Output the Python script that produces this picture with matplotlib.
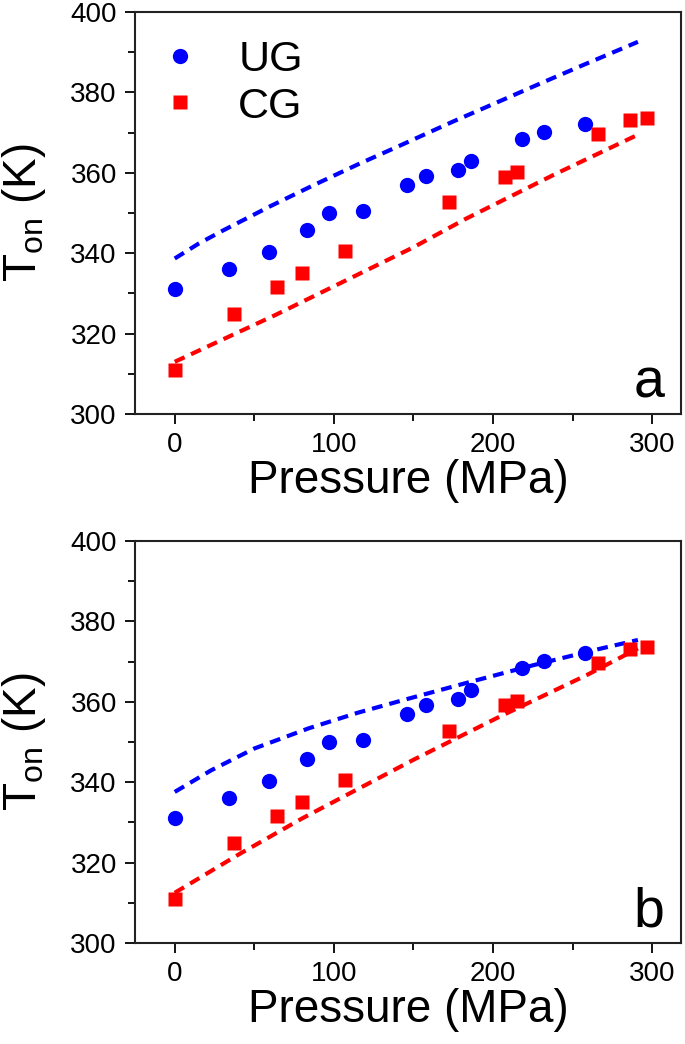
import matplotlib
matplotlib.use("Agg")
import matplotlib.pyplot as plt
from matplotlib.ticker import MultipleLocator

plt.rcParams["font.family"] = ["Liberation Sans", "DejaVu Sans"]
plt.rcParams["mathtext.default"] = "regular"

# measured onset temperatures (same in both panels)
ug_pressure = [0, 34, 59, 83, 97, 118, 146, 158, 178, 186, 218, 232, 258]
ug_temp = [331.0, 336.1, 340.3, 345.8, 349.9, 350.6, 357.0, 359.2, 360.7, 363.0, 368.4, 370.1, 372.1]
cg_pressure = [0, 37, 64, 80, 107, 172, 207.5, 215, 266, 286, 297]
cg_temp = [311.0, 325.0, 331.7, 335.2, 340.6, 352.7, 359.1, 360.1, 369.7, 373.1, 373.6]

# model curves, panel a
a_ug_p = [0, 15, 30, 60, 87, 115, 141, 175, 204, 230, 257, 291]
a_ug_t = [338.7, 342.4, 345.6, 351.7, 356.9, 362.1, 366.7, 372.8, 377.8, 382.3, 386.9, 392.6]
a_cg_p = [0, 63, 150, 183, 238, 291]
a_cg_t = [313.0, 324.6, 341.5, 348.6, 359.5, 369.5]

# model curves, panel b
b_ug_p = [0, 23, 50, 84, 115, 145, 185, 225, 267, 291]
b_ug_t = [337.6, 343.0, 348.4, 353.4, 357.3, 360.6, 364.9, 369.1, 373.2, 375.4]
b_cg_p = [0, 40, 80, 150, 204, 259, 291]
b_cg_t = [312.5, 322.0, 331.0, 345.6, 356.3, 366.7, 373.3]

BLUE = "#0000ff"
RED = "#ff0000"


def draw_panel(ax, ug_curve, cg_curve, letter, legend=False):
    ax.plot(*ug_curve, color=BLUE, lw=3.0, dashes=(2.6, 1.7))
    ax.plot(*cg_curve, color=RED, lw=3.0, dashes=(2.6, 1.7))
    ax.plot(ug_pressure, ug_temp, "o", color=BLUE, ms=11, mec="none", label="UG")
    ax.plot(cg_pressure, cg_temp, "s", color=RED, ms=10, mec="none", label="CG")

    ax.set_xlim(-25, 318)
    ax.set_ylim(300, 400)
    ax.xaxis.set_major_locator(MultipleLocator(100))
    ax.xaxis.set_minor_locator(MultipleLocator(50))
    ax.yaxis.set_major_locator(MultipleLocator(20))
    ax.yaxis.set_minor_locator(MultipleLocator(10))
    ax.tick_params(which="both", direction="out", width=1.3, labelsize=20, pad=6)
    ax.tick_params(which="major", length=7)
    ax.tick_params(which="minor", length=5)
    for spine in ax.spines.values():
        spine.set_linewidth(1.5)
        spine.set_color("#222222")

    ax.set_xlabel("Pressure (MPa)", fontsize=33, labelpad=1)
    ax.set_ylabel("T$_{on}$ (K)", fontsize=33, labelpad=16)
    ax.text(0.97, 0.04, letter, transform=ax.transAxes, fontsize=40,
            ha="right", va="baseline")

    if legend:
        ax.legend(loc="upper left", frameon=False, fontsize=31,
                  handlelength=0.8, handletextpad=0.95, labelspacing=0.15,
                  borderaxespad=0.25, borderpad=0.4)


fig = plt.figure(figsize=(6.85, 10.44), dpi=100)
ax_a = fig.add_axes([0.197, 0.6034, 0.797, 0.385])
ax_b = fig.add_axes([0.197, 0.0967, 0.797, 0.385])

draw_panel(ax_a, (a_ug_p, a_ug_t), (a_cg_p, a_cg_t), "a", legend=True)
draw_panel(ax_b, (b_ug_p, b_ug_t), (b_cg_p, b_cg_t), "b")

fig.savefig("out.png", dpi=100)
